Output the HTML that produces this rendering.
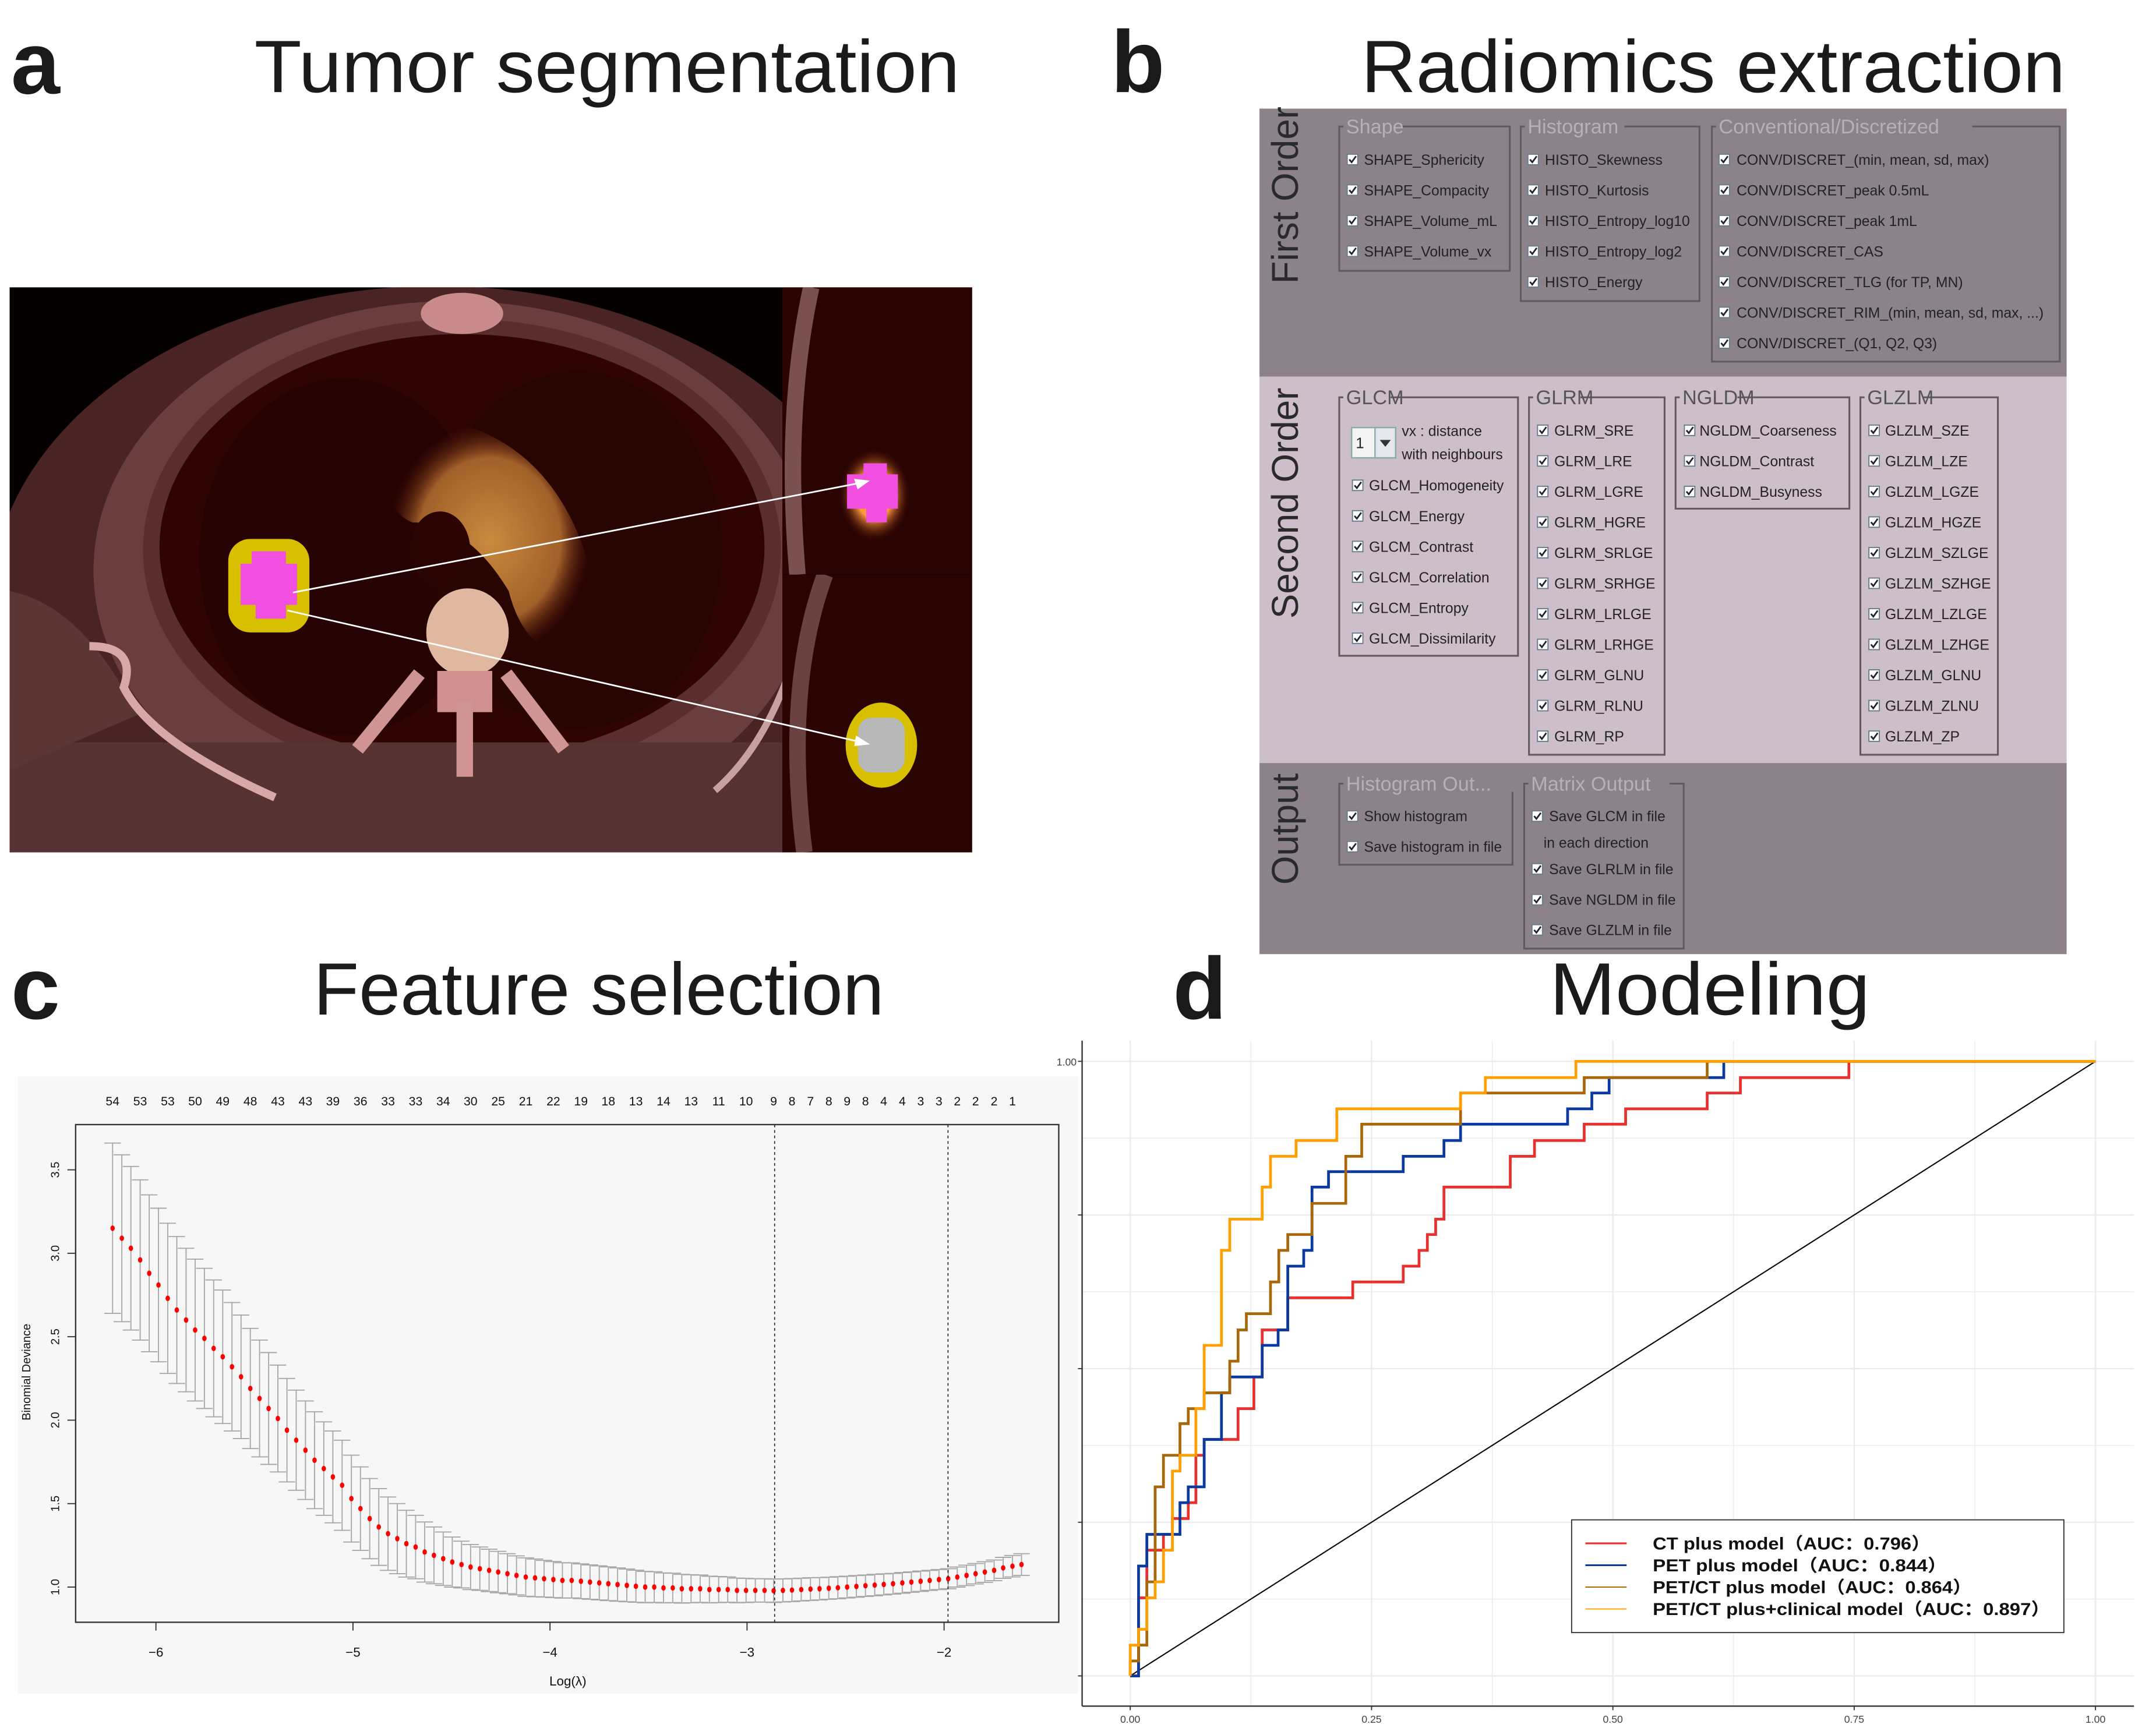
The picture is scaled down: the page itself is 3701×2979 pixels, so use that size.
<!DOCTYPE html>
<html><head><meta charset="utf-8"><style>
html,body{margin:0;padding:0;background:#fff;}
svg{display:block;}
text{font-family:"Liberation Sans","Noto Sans CJK SC",sans-serif;}
</style></head><body>
<svg id="fig" xmlns="http://www.w3.org/2000/svg" width="3701" height="2979" viewBox="0 0 1568 1262" preserveAspectRatio="none">
<rect x="0" y="0" width="1568" height="1262" fill="#fff"/>

<g font-weight="bold" font-size="64" fill="#1a1a1a">
<text x="8" y="68">a</text>
<text x="808" y="67">b</text>
<text x="8" y="741">c</text>
<text x="853" y="741">d</text>
</g>
<g font-size="54" fill="#1a1a1a">
<text x="185" y="67" textLength="513" lengthAdjust="spacingAndGlyphs">Tumor segmentation</text>
<text x="990" y="67" textLength="512" lengthAdjust="spacingAndGlyphs">Radiomics extraction</text>
<text x="228" y="738" textLength="415" lengthAdjust="spacingAndGlyphs">Feature selection</text>
<text x="1127" y="738" textLength="233" lengthAdjust="spacingAndGlyphs">Modeling</text>
</g>

<g>
<defs>
<clipPath id="clipMain"><rect x="7" y="209" width="562" height="411"/></clipPath>
<clipPath id="clipTop"><rect x="569" y="209" width="138" height="209"/></clipPath>
<clipPath id="clipBot"><rect x="569" y="418" width="138" height="202"/></clipPath>
<radialGradient id="aortaG" cx="50%" cy="50%" r="50%"><stop offset="0" stop-color="#c98a3e"/><stop offset="0.7" stop-color="#a2602a"/><stop offset="1" stop-color="#5a1a0a" stop-opacity="0"/></radialGradient>
<radialGradient id="glowG" cx="50%" cy="50%" r="50%"><stop offset="0.5" stop-color="#ff9a40"/><stop offset="1" stop-color="#400800" stop-opacity="0"/></radialGradient>
</defs>
<rect x="7" y="209" width="700" height="411" fill="#050000"/>
<g clip-path="url(#clipMain)">
<ellipse cx="318" cy="440" rx="325" ry="232" fill="#4a2424"/>
<ellipse cx="330" cy="415" rx="262" ry="196" fill="#6a3e3e"/>
<ellipse cx="336" cy="400" rx="232" ry="168" fill="#5a2e2e"/>
<ellipse cx="336" cy="398" rx="220" ry="155" fill="#2e0503"/>
<ellipse cx="250" cy="405" rx="105" ry="130" fill="#260302"/>
<ellipse cx="420" cy="400" rx="105" ry="130" fill="#280402"/>
<rect x="7" y="540" width="570" height="80" fill="#573232"/>
<path d="M7,430 Q60,440 100,520 L7,560 Z" fill="#5c3535"/>
<path d="M65,470 Q100,470 90,500 Q110,540 200,580" stroke="#d8a8a8" stroke-width="6" fill="none"/>
<path d="M520,575 Q560,540 580,470" stroke="#c8a0a0" stroke-width="5" fill="none"/>
<ellipse cx="336" cy="228" rx="30" ry="15" fill="#c88a8a"/>
<path d="M285,330 Q300,300 340,310 Q400,330 425,400 Q440,460 410,478 Q380,470 370,430 Q340,380 300,380 Q275,370 285,330 Z" fill="url(#aortaG)"/>
<ellipse cx="320" cy="400" rx="22" ry="28" fill="#2a0402"/>
<ellipse cx="340" cy="460" rx="30" ry="32" fill="#e0b8a0"/>
<rect x="318" y="488" width="40" height="30" fill="#d09090"/>
<rect x="332" y="510" width="12" height="55" fill="#d09494"/>
<path d="M305,490 L260,545" stroke="#d09494" stroke-width="10"/>
<path d="M368,490 L410,545" stroke="#d09494" stroke-width="10"/>
<rect x="166" y="392" width="59" height="68" rx="16" fill="#d8c000"/>
<path d="M183,401 L208,401 L208,410 L216,410 L216,440 L208,440 L208,450 L186,450 L186,440 L175,440 L175,410 L183,410 Z" fill="#f04fe0"/>
</g>
<g clip-path="url(#clipTop)">
<rect x="569" y="209" width="138" height="209" fill="#2a0402"/>
<path d="M590,209 Q570,300 580,418" stroke="#7a5050" stroke-width="12" fill="none"/>
<ellipse cx="636" cy="360" rx="26" ry="34" fill="url(#glowG)"/>
<path d="M628,337 L645,337 L645,345 L653,345 L653,370 L645,370 L645,380 L630,380 L630,370 L616,370 L616,345 L628,345 Z" fill="#f04fe0"/>
</g>
<g clip-path="url(#clipBot)">
<rect x="569" y="418" width="138" height="202" fill="#2a0402"/>
<path d="M600,418 Q570,500 585,620" stroke="#6a4242" stroke-width="12" fill="none"/>
<ellipse cx="641" cy="542" rx="26" ry="31" fill="#d8c000"/>
<rect x="624" y="522" width="34" height="40" rx="10" fill="#b8b8b8"/>
</g>
<g stroke="#fff" stroke-width="1.2" fill="#fff">
<line x1="213" y1="431" x2="627" y2="351"/>
<path d="M631,350 L622,349 L624,355 Z"/>
<line x1="209" y1="444" x2="627" y2="540"/>
<path d="M631,541 L623,536 L622,542 Z"/>
</g>
</g>

<g id="panelB">
<rect x="916" y="79" width="587" height="195" fill="#8b828a"/>
<rect x="916" y="274" width="587" height="281" fill="#cdbfca"/>
<rect x="916" y="555" width="587" height="139" fill="#8b828a"/>
<text transform="translate(944,142) rotate(-90)" text-anchor="middle" font-size="27" fill="#2a2a2a">First Order</text>
<text transform="translate(944,366) rotate(-90)" text-anchor="middle" font-size="27" fill="#2a2a2a">Second Order</text>
<text transform="translate(944,603) rotate(-90)" text-anchor="middle" font-size="27" fill="#2a2a2a">Output</text>
<rect x="983" y="311" width="32" height="22" fill="#f4f4f4" stroke="#8aa" stroke-width="1"/>
<rect x="1000" y="311" width="15" height="22" fill="#e4e8ec" stroke="#8aa" stroke-width="1"/>
<path d="M1003.5,320 L1011.5,320 L1007.5,325 Z" fill="#333"/>
<text x="986" y="326" font-size="11" fill="#222">1</text>
<text x="1019.5" y="317" font-size="10.5" fill="#222">vx : distance</text>
<text x="1019.5" y="334" font-size="10.5" fill="#222">with neighbours</text>
</g>

<g id="panelD">
<rect x="787" y="757" width="781" height="484" fill="#fff"/>
<g id="rocGrid"></g>
<line x1="787" y1="757" x2="787" y2="1241" stroke="#333" stroke-width="1"/>
<line x1="787" y1="1241" x2="1552" y2="1241" stroke="#333" stroke-width="1"/>
<g id="rocTicks"></g>
<g id="rocLines"></g>
<g id="rocLegend"></g>
</g>

<g id="panelC">
<rect x="13" y="783" width="771" height="449" fill="#f7f7f7"/>
<g id="lassoBars"></g>
<g id="lassoPoints"></g>
<rect x="55" y="818" width="715" height="362" fill="none" stroke="#333" stroke-width="1"/>
<g id="lassoAxes"></g>
<text transform="translate(22,998) rotate(-90)" text-anchor="middle" font-size="8.5" fill="#111">Binomial Deviance</text>
<text x="413" y="1226" text-anchor="middle" font-size="9.5" fill="#111">Log(λ)</text>
</g>
</svg>

<script>
const logLambda = [-6.22,-6.173,-6.127,-6.080,-6.034,-5.987,-5.940,-5.894,-5.847,-5.801,-5.754,-5.707,-5.661,-5.614,-5.568,-5.521,-5.474,-5.428,-5.381,-5.335,-5.288,-5.241,-5.195,-5.148,-5.102,-5.055,-5.008,-4.962,-4.915,-4.869,-4.822,-4.775,-4.729,-4.682,-4.636,-4.589,-4.542,-4.496,-4.449,-4.403,-4.356,-4.309,-4.263,-4.216,-4.170,-4.123,-4.076,-4.030,-3.983,-3.937,-3.890,-3.843,-3.797,-3.750,-3.704,-3.657,-3.610,-3.564,-3.517,-3.471,-3.424,-3.377,-3.331,-3.284,-3.238,-3.191,-3.144,-3.098,-3.051,-3.005,-2.958,-2.911,-2.865,-2.818,-2.772,-2.725,-2.678,-2.632,-2.585,-2.539,-2.492,-2.445,-2.399,-2.352,-2.306,-2.259,-2.212,-2.166,-2.119,-2.073,-2.026,-1.979,-1.933,-1.886,-1.840,-1.793,-1.746,-1.700,-1.653,-1.607];
const deviance = [3.15,3.09,3.03,2.96,2.88,2.81,2.73,2.66,2.60,2.54,2.49,2.43,2.38,2.32,2.26,2.19,2.13,2.07,2.01,1.94,1.88,1.82,1.76,1.71,1.66,1.61,1.53,1.47,1.41,1.36,1.32,1.29,1.26,1.24,1.21,1.19,1.17,1.15,1.135,1.12,1.11,1.10,1.09,1.08,1.07,1.06,1.055,1.05,1.045,1.04,1.04,1.035,1.03,1.025,1.02,1.015,1.01,1.005,1.0,1.0,0.995,0.995,0.99,0.99,0.99,0.985,0.985,0.985,0.98,0.98,0.98,0.98,0.978,0.98,0.982,0.985,0.988,0.99,0.993,0.996,1.0,1.004,1.008,1.012,1.016,1.02,1.025,1.03,1.035,1.04,1.045,1.05,1.06,1.07,1.08,1.09,1.10,1.115,1.125,1.135];
const devianceSE = [.51,.50,.49,.48,.47,.46,.45,.44,.43,.425,.42,.41,.40,.385,.37,.36,.35,.335,.32,.31,.30,.295,.29,.28,.275,.27,.26,.25,.24,.23,.22,.21,.20,.19,.18,.17,.16,.15,.14,.135,.13,.127,.124,.12,.117,.115,.113,.11,.108,.106,.105,.104,.103,.102,.101,.10,.098,.096,.094,.092,.09,.088,.086,.084,.082,.08,.078,.076,.074,.072,.07,.07,.07,.069,.069,.068,.068,.067,.066,.066,.065,.065,.064,.064,.063,.062,.062,.061,.061,.06,.06,.06,.06,.061,.061,.062,.062,.063,.064,.065];
const nonzeroCounts = [54,53,53,50,49,48,43,43,39,36,33,33,34,30,25,21,22,19,18,13,14,13,11,10,9,8,7,8,9,8,4,4,3,3,2,2,2,1];
const nonzeroIndex = [0,3,6,9,12,15,18,21,24,27,30,33,36,39,42,45,48,51,54,57,60,63,66,69,72,74,76,78,80,82,84,86,88,90,92,94,96,98];
const xTicksC = [-6,-5,-4,-3,-2];
const yTicksC = [1.0,1.5,2.0,2.5,3.0,3.5];
const lambdaLines = [-2.86,-1.98];

const rocXTicks = [0,0.25,0.5,0.75,1];
const rocXTickLabels = ["0.00","0.25","0.50","0.75","1.00"];
const ctFpr = [0.0086,0.0172,0.0344,0.0437,0.0601,0.068,0.0766,0.1117,0.1281,0.1367,0.1632,0.2305,0.2828,0.2992,0.3078,0.3164,0.325,0.3937,0.4188,0.4703,0.5132,0.5977,0.6321,0.7445];
const ctTpr = [0.127,0.2046,0.2303,0.256,0.2818,0.359,0.3848,0.4349,0.4864,0.5629,0.6152,0.641,0.6667,0.6924,0.7182,0.7432,0.7954,0.8455,0.8712,0.8977,0.9227,0.9485,0.9735,1];
const petFpr = [0.0086,0.0172,0.0515,0.0601,0.0766,0.0945,0.1031,0.1367,0.1532,0.1632,0.1797,0.1883,0.2054,0.2828,0.325,0.3422,0.4531,0.4782,0.4961,0.6149];
const petTpr = [0.1788,0.2303,0.2818,0.3076,0.3848,0.4606,0.4864,0.5379,0.5629,0.6667,0.6924,0.7954,0.8205,0.8455,0.8712,0.8977,0.9227,0.9485,0.9735,1];
const petctFpr = [0,0.0086,0.0172,0.0258,0.0344,0.0515,0.0601,0.0766,0.1031,0.1117,0.1203,0.1453,0.1539,0.1632,0.1883,0.2233,0.2398,0.3422,0.4703,0.5977];
const petctTpr = [0.0243,0.0501,0.153,0.3076,0.359,0.4105,0.4349,0.4606,0.5121,0.5629,0.5894,0.641,0.6924,0.7182,0.7689,0.8455,0.8977,0.9485,0.9735,1];
const clinFpr = [0,0.0086,0.0172,0.0258,0.0344,0.0437,0.0515,0.068,0.0766,0.0945,0.1031,0.1367,0.1453,0.1718,0.214,0.3422,0.3679,0.4617];
const clinTpr = [0.05,0.0758,0.127,0.153,0.2046,0.3333,0.359,0.4349,0.5379,0.6924,0.7432,0.7954,0.8455,0.8712,0.9227,0.9485,0.9735,1];
const legendLabels = ["CT plus model（AUC：0.796）","PET plus model（AUC：0.844）","PET/CT plus model（AUC：0.864）","PET/CT plus+clinical model（AUC：0.897）"];

const NS = "http://www.w3.org/2000/svg";
function mk(tag, attrs, parent){ const e=document.createElementNS(NS,tag); for(const k in attrs) e.setAttribute(k,attrs[k]); parent.appendChild(e); return e; }

const xC = l => 113.4 + (l + 6) * 143.3;
const yC = d => 1154.4 - (d - 1) * 121.4;
const bars = document.getElementById('lassoBars');
for (let i=0;i<logLambda.length;i++){
  const x = xC(logLambda[i]), up = yC(deviance[i]+devianceSE[i]), lo = yC(deviance[i]-devianceSE[i]);
  const g = mk('g',{stroke:'#a8a8a8','stroke-width':0.8},bars);
  
  
  mk('line',{x1:x,y1:up,x2:x,y2:lo},g);
  mk('line',{x1:x-6,y1:up,x2:x+6,y2:up},g);
  mk('line',{x1:x-6,y1:lo,x2:x+6,y2:lo},g);
}
const pts = document.getElementById('lassoPoints');
for (let i=0;i<logLambda.length;i++){
  const c = mk('ellipse',{cx:xC(logLambda[i]),cy:yC(deviance[i]),rx:1.6,ry:2,fill:'#ff0000'},pts);
  
  
}
const axC = document.getElementById('lassoAxes');
for (const l of lambdaLines){
  const ln = mk('line',{x1:xC(l),y1:818,x2:xC(l),y2:1180,stroke:'#222','stroke-width':0.7,'stroke-dasharray':'2,2'},axC);
  
  
}
for (const t of xTicksC){
  const x=xC(t);
  mk('line',{x1:x,y1:1180,x2:x,y2:1186,stroke:'#333','stroke-width':0.8},axC);
  const tx = mk('text',{x:x,y:1205,'text-anchor':'middle','font-size':9.5,fill:'#111'},axC);
  tx.textContent = '\u2212'+Math.abs(t);
  
  
}
for (const t of yTicksC){
  const y=yC(t);
  mk('line',{x1:55,y1:y,x2:49,y2:y,stroke:'#333','stroke-width':0.8},axC);
  const tx = mk('text',{transform:`translate(43,${y}) rotate(-90)`,'text-anchor':'middle','font-size':8.5,fill:'#111'},axC);
  tx.textContent = t.toFixed(1);
  
  
}
for (let k=0;k<nonzeroCounts.length;k++){
  const tx = mk('text',{x:xC(logLambda[nonzeroIndex[k]]),y:804,'text-anchor':'middle','font-size':9,fill:'#111'},axC);
  tx.textContent = nonzeroCounts[k];
  
  
}

const xD = f => 822 + f * 702;
const yD = t => 1219 - t * 447;
const grid = document.getElementById('rocGrid');
for (let v=0; v<=1.0001; v+=0.125){
  const major = Math.abs(v*4-Math.round(v*4))<1e-6;
  mk('line',{x1:xD(v),y1:757,x2:xD(v),y2:1241,stroke:'#ebebeb','stroke-width':major?1:0.6},grid);
  mk('line',{x1:787,y1:yD(v),x2:1552,y2:yD(v),stroke:'#ebebeb','stroke-width':major?1:0.6},grid);
}
const rt = document.getElementById('rocTicks');
for (let i=0;i<rocXTicks.length;i++){
  const x=xD(rocXTicks[i]);
  mk('line',{x1:x,y1:1241,x2:x,y2:1244,stroke:'#333','stroke-width':0.8},rt);
  const tx = mk('text',{x:x,y:1253,'text-anchor':'middle','font-size':7.5,fill:'#444'},rt);
  tx.textContent = rocXTickLabels[i];
  
  
  mk('line',{x1:784,y1:yD(rocXTicks[i]),x2:787,y2:yD(rocXTicks[i]),stroke:'#333','stroke-width':0.8},rt);
}
const ylab = mk('text',{x:783,y:775,'text-anchor':'end','font-size':7.5,fill:'#444'},rt);
ylab.textContent = '1.00';



const rl = document.getElementById('rocLines');
const diag = mk('line',{x1:xD(0),y1:yD(0),x2:xD(1),y2:yD(1),stroke:'#000','stroke-width':0.9},rl);


function stepPath(fpr,tpr){
  let d = `M${xD(0)},${yD(0)}`;
  for (let i=0;i<fpr.length;i++){ d += ` H${xD(fpr[i])} V${yD(tpr[i])}`; }
  return d + ` H${xD(1)}`;
}
const series = [[ctFpr,ctTpr,'#e8302f','roc-ct-plus'],[petFpr,petTpr,'#0a3aa0','roc-pet-plus'],[petctFpr,petctTpr,'#a8680a','roc-petct-plus'],[clinFpr,clinTpr,'#ff9f00','roc-petct-clinical']];
for (const s of series){
  const p = mk('path',{d:stepPath(s[0],s[1]),fill:'none',stroke:s[2],'stroke-width':2},rl);
  
  
}
const lg = document.getElementById('rocLegend');
const lbox = mk('rect',{x:1143,y:1105.5,width:358,height:82,fill:'#fff',stroke:'#333','stroke-width':0.8},lg);


const legendW = [202,214,232,289];
for (let i=0;i<legendLabels.length;i++){
  const y = 1122.6 + i*15.9;
  mk('line',{x1:1153,y1:y,x2:1183,y2:y,stroke:series[i][2],'stroke-width':i<2?1.3:0.8},lg);
  const tx = mk('text',{x:1202,y:y+4.5,'font-size':12.5,'font-weight':'bold',fill:'#111',textLength:legendW[i],lengthAdjust:'spacingAndGlyphs'},lg);
  tx.textContent = legendLabels[i];
  
  
}

const pb = document.getElementById('panelB');
const groups = [
 {t:'Shape',x:974,y:92,w:124,h:105,bg:'#8b828a',tc:'#b8b0b8',cx:983.6,tx:992,y0:116,items:['SHAPE_Sphericity','SHAPE_Compacity','SHAPE_Volume_mL','SHAPE_Volume_vx']},
 {t:'Histogram',x:1106,y:92,w:130,h:127,bg:'#8b828a',tc:'#b8b0b8',cx:1115,tx:1123.6,y0:116,items:['HISTO_Skewness','HISTO_Kurtosis','HISTO_Entropy_log10','HISTO_Entropy_log2','HISTO_Energy']},
 {t:'Conventional/Discretized',x:1245,y:92,w:253,h:171,bg:'#8b828a',tc:'#b8b0b8',cx:1254,tx:1263,y0:116,items:['CONV/DISCRET_(min, mean, sd, max)','CONV/DISCRET_peak 0.5mL','CONV/DISCRET_peak 1mL','CONV/DISCRET_CAS','CONV/DISCRET_TLG (for TP, MN)','CONV/DISCRET_RIM_(min, mean, sd, max, ...)','CONV/DISCRET_(Q1, Q2, Q3)']},
 {t:'GLCM',x:974,y:289,w:130,h:188,bg:'#cdbfca',tc:'#555',cx:987.4,tx:995.7,y0:353,items:['GLCM_Homogeneity','GLCM_Energy','GLCM_Contrast','GLCM_Correlation','GLCM_Entropy','GLCM_Dissimilarity']},
 {t:'GLRM',x:1112,y:289,w:98.6,h:260,bg:'#cdbfca',tc:'#555',cx:1122,tx:1130.4,y0:313,items:['GLRM_SRE','GLRM_LRE','GLRM_LGRE','GLRM_HGRE','GLRM_SRLGE','GLRM_SRHGE','GLRM_LRLGE','GLRM_LRHGE','GLRM_GLNU','GLRM_RLNU','GLRM_RP']},
 {t:'NGLDM',x:1218.6,y:289,w:126.4,h:81,bg:'#cdbfca',tc:'#555',cx:1228.8,tx:1236,y0:313,items:['NGLDM_Coarseness','NGLDM_Contrast','NGLDM_Busyness']},
 {t:'GLZLM',x:1353,y:289,w:100,h:260,bg:'#cdbfca',tc:'#555',cx:1363,tx:1371,y0:313,items:['GLZLM_SZE','GLZLM_LZE','GLZLM_LGZE','GLZLM_HGZE','GLZLM_SZLGE','GLZLM_SZHGE','GLZLM_LZLGE','GLZLM_LZHGE','GLZLM_GLNU','GLZLM_ZLNU','GLZLM_ZP']},
 {t:'Histogram Out...',x:974,y:570,w:126,h:59,bg:'#8b828a',tc:'#b8b0b8',cx:983.6,tx:992,y0:593.6,items:['Show histogram','Save histogram in file']},
 {t:'Matrix Output',x:1108.5,y:570,w:116,h:120,bg:'#8b828a',tc:'#b8b0b8',cx:1118,tx:1126.6,y0:593.6,items:['Save GLCM in file','~in each direction','Save GLRLM in file','Save NGLDM in file','Save GLZLM in file'],ys:[593.6,612.8,632,654.4,676.4]}
];
for (const g of groups){
  const box = mk('rect',{x:g.x,y:g.y,width:g.w,height:g.h,fill:'none',stroke:'#5e5a5e','stroke-width':1.3},pb);
  
  
  const tw = g.t.length*7.6+4;
  mk('rect',{x:g.x+3,y:g.y-6,width:tw,height:12,fill:g.bg},pb);
  const tt = mk('text',{x:g.x+5,y:g.y+5,'font-size':14.5,fill:g.tc},pb);
  tt.textContent = g.t;
  
  
  g.items.forEach((it,k)=>{
    const y = g.ys ? g.ys[k] : g.y0 + k*22.25;
    if (it[0]==='~'){
      const t2 = mk('text',{x:g.tx-4,y:y+3.8,'font-size':10.5,fill:'#222'},pb);
      t2.textContent = it.slice(1);
      
      
      return;
    }
    const cb = mk('rect',{x:g.cx-3.8,y:y-3.8,width:7.6,height:7.6,fill:'#fff',stroke:'#6a7a8a','stroke-width':0.8},pb);
    
    
    mk('path',{d:`M${g.cx-2.3},${y} L${g.cx-0.6},${y+2} L${g.cx+2.6},${y-2.4}`,fill:'none',stroke:'#223','stroke-width':1.2},pb);
    const tx = mk('text',{x:g.tx,y:y+3.8,'font-size':10.5,fill:'#222'},pb);
    tx.textContent = it;
    
    
  });
}
</script>
</body></html>
